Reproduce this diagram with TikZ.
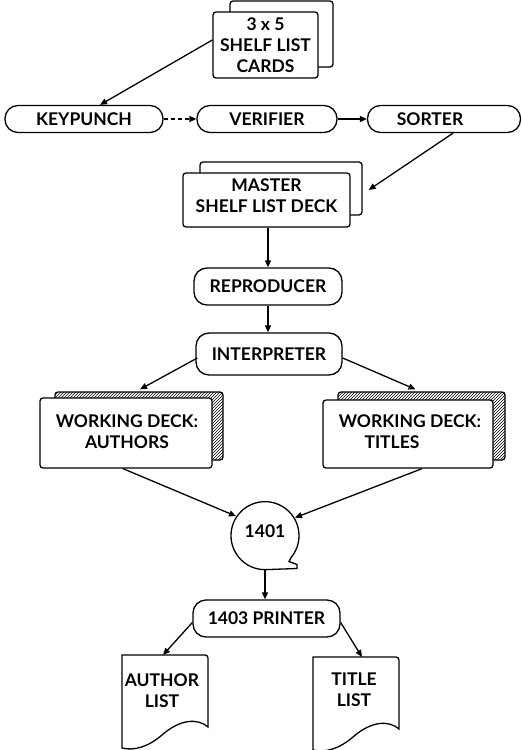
\documentclass[tikz,border=0pt]{standalone}
\usepackage{fontspec}
\setmainfont{Lato}
\usetikzlibrary{arrows.meta,patterns,calc}
\begin{document}
\begin{tikzpicture}[x=1pt,y=-1pt,line width=1.3pt,
  >={Triangle[length=7pt,width=6pt]},
  txt/.style={font=\fontsize{17.5}{21}\selectfont\bfseries, align=center, inner sep=0pt},
  term/.style={draw, rounded corners=13pt, inner sep=0pt, txt},
  card/.style={draw, fill=white, rounded corners=3pt, inner sep=0pt},
  hatchcard/.style={draw, rounded corners=3pt, inner sep=0pt, preaction={fill=white}, pattern=north east lines},
  docpic/.pic={\draw (0,93) -- (0,0) [rounded corners=3pt] -- (86,0) [sharp corners] -- (86,72)
      .. controls (76,63) and (58,64) .. (40,80) .. controls (26,92) and (12,96) .. (0,93);}
  ]
\useasboundingbox (0,0) rectangle (522,750);

% 3x5 cards
\node[card, minimum width=103, minimum height=66] (cardsb) at (281.5,34) {};
\node[card, minimum width=105, minimum height=66] (cards) at (265.5,45) {};
\node[txt] (cardst) at (265.5,45) {3 x 5\\SHELF LIST\\CARDS};

% top row
\node[term, minimum width=158, minimum height=27] (kp) at (84,119) {KEYPUNCH};
\node[term, minimum width=140, minimum height=27] (ver) at (267,119) {VERIFIER};
\node[draw, rounded corners=13pt, minimum width=153, minimum height=27] (sort) at (444,119) {};
\node[txt] (sortt) at (430,119) {SORTER};

% master deck
\node[card, minimum width=162, minimum height=53] (mastb) at (281,188.5) {};
\node[card, minimum width=167, minimum height=54] (mast) at (266.5,200) {};
\node[txt] (mastt) at (266.5,196) {MASTER\\SHELF LIST DECK};

\node[term, minimum width=148, minimum height=37] (rep) at (268,286.5) {REPRODUCER};
\node[term, minimum width=146, minimum height=42] (int) at (269,354) {INTERPRETER};

% working decks
\node[hatchcard, minimum width=168, minimum height=68] (authb) at (139,426) {};
\node[card, minimum width=172, minimum height=70] (auth) at (126,433) {};
\node[txt] (autht) at (127,431.5) {WORKING DECK:\\AUTHORS};

\node[hatchcard, minimum width=167, minimum height=68] (titb) at (421.5,426) {};
\node[card, minimum width=170, minimum height=68] (tit) at (408,434) {};
\node[txt] (titt1) at (410,421) {WORKING DECK:};
\node[txt] (titt2) at (392,442) {TITLES};

% 1401
\node[circle, minimum size=68, inner sep=0pt] (cpu) at (265,535) {};
\draw (cpu.south) arc[start angle=90, end angle=400, radius=34] -- ++(-2,4) -- ++(8,3) -- ++(0,4) -- (cpu.south);
\node[txt] (cput) at (265,531) {1401};

\node[term, minimum width=147, minimum height=37] (prn) at (266.5,618.5) {1403 PRINTER};

% documents
\pic at (122,655) {docpic};
\pic at (313,657) {docpic};
\coordinate (alisttop) at (163,655);
\coordinate (tlisttop) at (362,657);
\node[txt] (alist) at (162,691) {AUTHOR\\LIST};
\node[txt] (tlist) at (354,690) {TITLE\\LIST};

% connectors
\draw[->] ($(cards.west)+(0,-5)$) -- ($(kp.north)+(16,0)$);
\draw[->, dash pattern=on 4pt off 3pt] (kp.east) -- (ver.west);
\draw[->] (ver.east) -- (sort.west);
\draw[->] ($(sort.south)+(9,0)$) -- ($(mastb.east)+(6,1.5)$);
\draw[->] (mast.south -| rep.north) -- (rep.north);
\draw[->] (rep.south) -- (rep.south |- int.north);
\draw[->] ($(int.west)+(2,4)$) -- ($(authb.north)+(1,-2)$);
\draw[->] ($(int.east)+(0,4)$) -- ($(titb.north)+(-6,-2)$);
\draw[->] ($(auth.south)+(-3,0)$) -- (cpu.147);
\draw[->] ($(tit.south)+(14,0)$) -- (cpu.30);
\draw[->] (cpu.south) -- (cpu.south |- prn.north);
\draw[->] ($(prn.west)+(0,4)$) -- (alisttop);
\draw[->] ($(prn.east)+(0,4)$) -- (tlisttop);
\end{tikzpicture}
\end{document}
